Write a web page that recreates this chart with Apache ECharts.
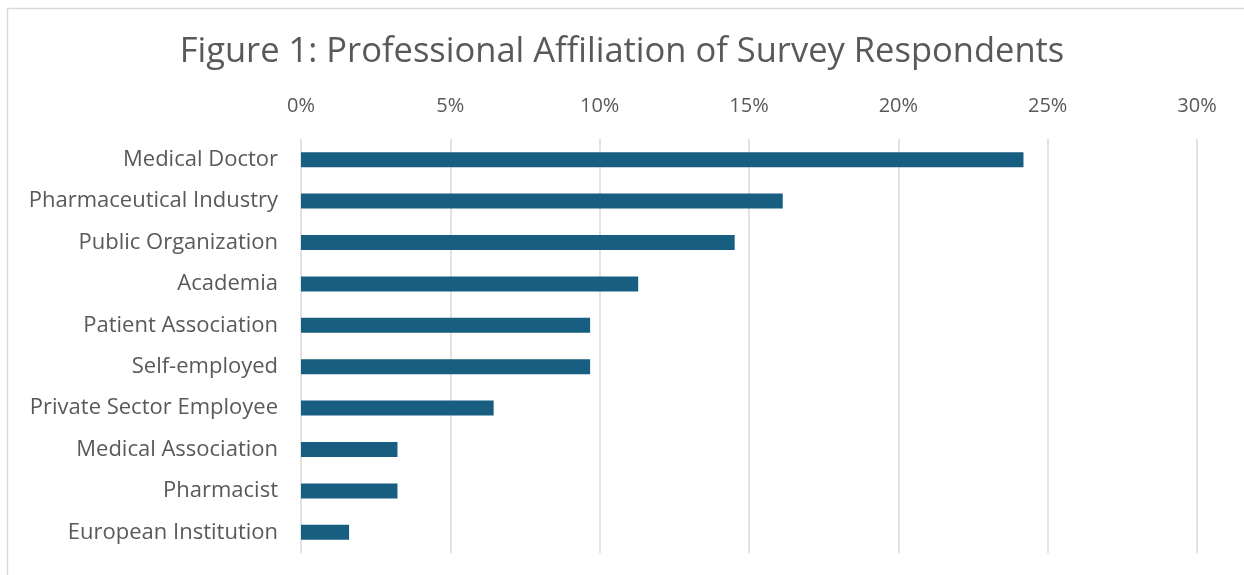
<!DOCTYPE html>
<html>
<head>
<meta charset="utf-8">
<script src="https://cdn.jsdelivr.net/npm/echarts@6/dist/echarts.min.js"></script>
<style>
  html, body { margin: 0; padding: 0; background: #ffffff; }
  #chart { width: 1244px; height: 575px; }
</style>
</head>
<body>
<div id="chart"></div>
<script>
// Affiliation categories, listed top to bottom
const categories = [
  'Medical Doctor',
  'Pharmaceutical Industry',
  'Public Organization',
  'Academia',
  'Patient Association',
  'Self-employed',
  'Private Sector Employee',
  'Medical Association',
  'Pharmacist',
  'European Institution'
];

// Share of respondents (fraction of total)
const shares = [
  0.2419, 0.1613, 0.1452, 0.1129, 0.0968,
  0.0968, 0.0645, 0.0323, 0.0323, 0.0161
];

// Value axis tick range
const axisMin = 0;
const axisMax = 0.30;
const axisStep = 0.05;

const textColor = '#595959';
const fontFamily = '"Open Sans", "Noto Sans", sans-serif';

const chart = echarts.init(document.getElementById('chart'), null, { renderer: 'canvas' });

chart.setOption({
  animation: false,
  backgroundColor: '#ffffff',
  title: {
    text: 'Figure 1: Professional Affiliation of Survey Respondents',
    left: 'center',
    top: 30,
    textStyle: {
      color: textColor,
      fontFamily: fontFamily,
      fontWeight: 'normal',
      fontSize: 34.5
    }
  },
  graphic: [{
    type: 'rect',
    shape: { x: 7.5, y: 8.5, width: 1250, height: 600 },
    style: { fill: 'none', stroke: '#d9d9d9', lineWidth: 1.5 },
    silent: true,
    z: -1
  }],
  grid: {
    left: 301,
    right: 47,
    top: 139,
    bottom: 22,
    containLabel: false
  },
  xAxis: {
    type: 'value',
    position: 'top',
    min: axisMin,
    max: axisMax,
    interval: axisStep,
    axisLine: { show: false },
    axisTick: { show: false },
    splitLine: { lineStyle: { color: '#d9d9d9', width: 1.5 } },
    axisLabel: {
      color: textColor,
      fontFamily: fontFamily,
      fontSize: 20,
      margin: 23,
      formatter: v => Math.round(v * 100) + '%'
    }
  },
  yAxis: {
    type: 'category',
    data: categories,
    inverse: true,
    axisLine: { show: false },
    axisTick: { show: false },
    axisLabel: {
      color: textColor,
      fontFamily: fontFamily,
      fontSize: 22,
      margin: 23
    }
  },
  series: [{
    type: 'bar',
    data: shares,
    barWidth: 15,
    itemStyle: { color: '#175e80' }
  }]
});
</script>
</body>
</html>
